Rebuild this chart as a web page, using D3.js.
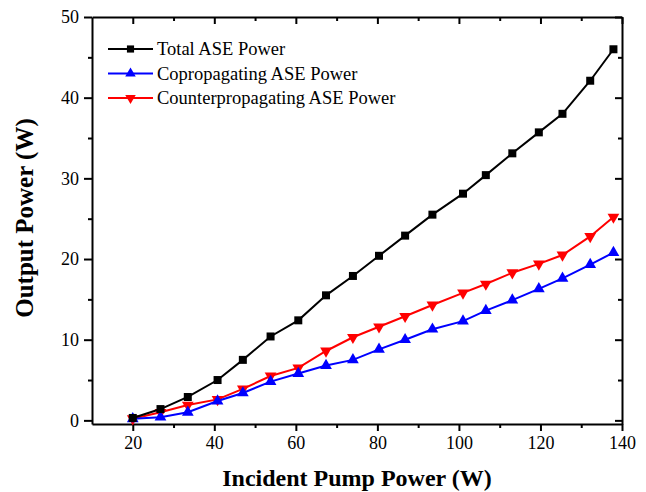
<!DOCTYPE html>
<html>
<head>
<meta charset="utf-8">
<script src="https://cdn.jsdelivr.net/npm/d3@7"></script>
<style>
  body { margin: 0; background: #fff; }
  svg text { font-family: "Liberation Serif", "Times New Roman", serif; }
  .axis path, .axis line { stroke: #000; stroke-width: 2; }
  .axis text { font-size: 18px; fill: #000; font-family: "Liberation Serif", serif; }
</style>
</head>
<body>
<div id="chart"></div>
<script>
// incident pump power (W)
var pump = [20, 26.8, 33.5, 40.8, 47, 53.8, 60.6, 67.4, 74, 80.4, 86.8, 93.5, 101, 106.6, 113.1, 119.6, 125.4, 132.2, 137.9];
var totalASE = [0.3, 1.4, 2.9, 5.0, 7.5, 10.4, 12.4, 15.5, 17.9, 20.4, 22.9, 25.5, 28.1, 30.4, 33.1, 35.7, 38.0, 42.1, 46.0];
var coASE = [0.2, 0.4, 1.0, 2.4, 3.4, 4.8, 5.8, 6.8, 7.5, 8.8, 10.0, 11.3, 12.3, 13.6, 14.9, 16.3, 17.6, 19.3, 20.8];
var counterASE = [0.2, 1.0, 1.9, 2.6, 3.9, 5.5, 6.5, 8.6, 10.3, 11.6, 12.9, 14.3, 15.8, 16.9, 18.3, 19.4, 20.5, 22.8, 25.2];
var seriesNames = ["Total ASE Power", "Copropagating ASE Power", "Counterpropagating ASE Power"];
var xTicks = [20, 40, 60, 80, 100, 120, 140];
var yTicks = [0, 10, 20, 30, 40, 50];

var width = 646, height = 492;
var margin = {top: 17, right: 24, bottom: 68, left: 92};

var svg = d3.select("#chart").append("svg")
  .attr("width", width)
  .attr("height", height);

var x = d3.scaleLinear().domain([10, 140]).range([margin.left, width - margin.right]);
var y = d3.scaleLinear().domain([-0.45, 50]).range([height - margin.bottom, margin.top]);

var x0 = x.range()[0], x1 = x.range()[1];
var y0 = y.range()[0], y1 = y.range()[1];

// minor ticks
var xMinor = d3.range(20, 141, 10).filter(function(d) { return d % 20 != 0; });
var yMinor = d3.range(5, 50, 10);

// bottom axis
svg.append("g").attr("class", "axis")
  .attr("transform", "translate(0," + y0 + ")")
  .call(d3.axisBottom(x).tickValues(xTicks).tickSize(7).tickPadding(5).tickSizeOuter(0));
svg.append("g").attr("class", "axis")
  .attr("transform", "translate(0," + y0 + ")")
  .call(d3.axisBottom(x).tickValues(xMinor).tickSize(4).tickFormat("").tickSizeOuter(0))
  .select(".domain").remove();

// left axis
svg.append("g").attr("class", "axis")
  .attr("transform", "translate(" + x0 + ",0)")
  .call(d3.axisLeft(y).tickValues(yTicks).tickSize(8).tickPadding(5).tickSizeOuter(0));
svg.append("g").attr("class", "axis")
  .attr("transform", "translate(" + x0 + ",0)")
  .call(d3.axisLeft(y).tickValues(yMinor).tickSize(4).tickFormat("").tickSizeOuter(0))
  .select(".domain").remove();

// top axis, inward ticks
svg.append("g").attr("class", "axis")
  .attr("transform", "translate(0," + y1 + ")")
  .call(d3.axisBottom(x).tickValues(xTicks.concat(xMinor)).tickSize(0).tickFormat("").tickSizeOuter(0))
  .selectAll(".tick line").attr("y2", function(d) { return xTicks.indexOf(d) >= 0 ? 7 : 4; });

// right axis, inward ticks
svg.append("g").attr("class", "axis")
  .attr("transform", "translate(" + x1 + ",0)")
  .call(d3.axisLeft(y).tickValues(yTicks.concat(yMinor)).tickSize(0).tickFormat("").tickSizeOuter(0))
  .selectAll(".tick line").attr("x2", function(d) { return yTicks.indexOf(d) >= 0 ? -7 : -4; });

// axis titles
svg.append("text")
  .attr("x", (x0 + x1) / 2)
  .attr("y", 486)
  .attr("text-anchor", "middle")
  .attr("font-size", "24px")
  .attr("font-weight", "bold")
  .text("Incident Pump Power (W)");

svg.append("text")
  .attr("transform", "translate(33,218) rotate(-90)")
  .attr("text-anchor", "middle")
  .attr("font-size", "25px")
  .attr("font-weight", "bold")
  .text("Output Power (W)");

// series
var series = [
  {name: seriesNames[0], values: totalASE, color: "#000000", symbol: d3.symbolSquare, size: 64, rot: 0},
  {name: seriesNames[1], values: coASE, color: "#0000ff", symbol: d3.symbolTriangle, size: 60, rot: 0},
  {name: seriesNames[2], values: counterASE, color: "#ff0000", symbol: d3.symbolTriangle, size: 60, rot: 180}
];

var line = d3.line()
  .x(function(d) { return x(d[0]); })
  .y(function(d) { return y(d[1]); });

// draw counter, co, then total on top
[2, 1, 0].forEach(function(k) {
  var s = series[k];
  var pts = pump.map(function(p, i) { return [p, s.values[i]]; });
  svg.append("path")
    .attr("d", line(pts))
    .attr("fill", "none")
    .attr("stroke", s.color)
    .attr("stroke-width", 2);
  svg.append("g").selectAll("path")
    .data(pts).enter()
    .append("path")
    .attr("d", d3.symbol().type(s.symbol).size(s.size))
    .attr("transform", function(d) { return "translate(" + x(d[0]) + "," + y(d[1]) + ") rotate(" + s.rot + ")"; })
    .attr("fill", s.color);
});

// legend
var legend = svg.append("g").attr("transform", "translate(108,49)");
series.forEach(function(s, i) {
  var g = legend.append("g").attr("transform", "translate(0," + (i * 24.5) + ")");
  g.append("line").attr("x1", 0).attr("x2", 45).attr("y1", 0).attr("y2", 0)
    .attr("stroke", s.color).attr("stroke-width", 2);
  g.append("path")
    .attr("d", d3.symbol().type(s.symbol).size(s.size * 0.8))
    .attr("transform", "translate(22.5,0) rotate(" + s.rot + ")")
    .attr("fill", s.color);
  g.append("text")
    .attr("x", 49)
    .attr("y", 6)
    .attr("font-size", "18.5px")
    .text(s.name);
});
</script>
</body>
</html>
